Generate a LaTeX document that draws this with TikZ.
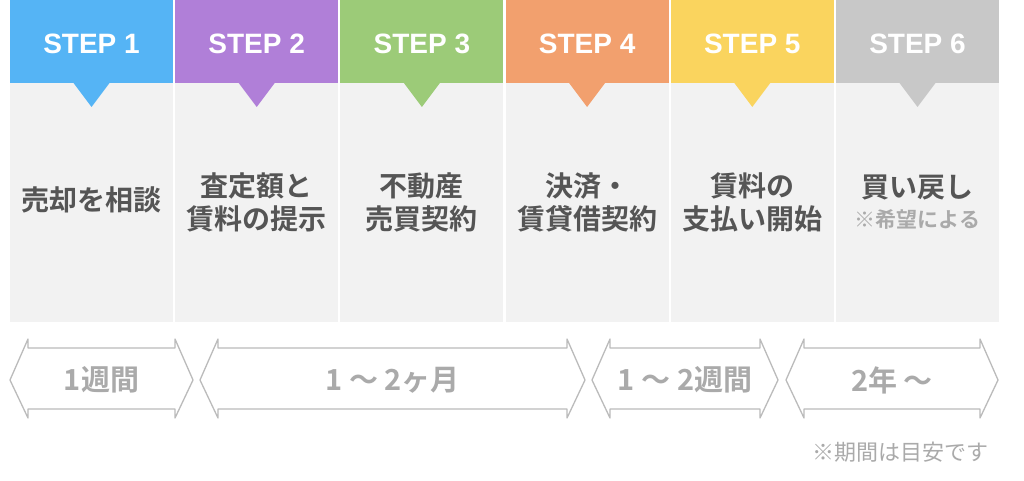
\documentclass[tikz,border=0pt]{standalone}
\usepackage{fontspec}
\setmainfont{Noto Sans CJK JP}
\newfontfamily\cjkb{Noto Sans CJK JP Bold}
\newfontfamily\arb{Liberation Sans Bold}
\begin{document}
\begin{tikzpicture}[x=1pt,y=-1pt,
  lbl/.style={font=\cjkb\fontsize{28}{33}\selectfont,text=txtc,align=center},
  steplbl/.style={font=\arb\fontsize{28}{30}\selectfont,text=white},
  durlbl/.style={font=\cjkb\fontsize{29}{30}\selectfont,text=arrc},
  arr/.style={draw=arrc!80,line width=1.3pt,line join=round,fill=white}]
\definecolor{bodyc}{HTML}{F2F2F2}
\definecolor{txtc}{HTML}{555555}
\definecolor{arrc}{HTML}{AAAAAA}
\definecolor{c1}{HTML}{55B4F5}
\definecolor{c2}{HTML}{B07FD8}
\definecolor{c3}{HTML}{9CCB78}
\definecolor{c4}{HTML}{F2A06E}
\definecolor{c5}{HTML}{FAD45E}
\definecolor{c6}{HTML}{C8C8C8}
\useasboundingbox (0,0) rectangle (1024,481);
\fill[white] (0,0) rectangle (1024,481);
\foreach \i/\c in {1/c1,2/c2,3/c3,4/c4,5/c5,6/c6}{
  \pgfmathsetmacro{\xa}{10+(\i-1)*165.2}
  \pgfmathsetmacro{\xb}{\xa+163}
  \pgfmathsetmacro{\xm}{\xa+81.5}
  \fill[bodyc] (\xa,83) rectangle (\xb,322);
  \fill[\c] (\xa,0) rectangle (\xb,83);
  \fill[\c] (\xm-18,83) -- (\xm+18,83) -- (\xm,107) -- cycle;
  \node[steplbl] (s\i) at (\xm,44) {STEP \i};
}
\node[lbl] (t1) at (91.5,200) {売却を相談};
\node[lbl] (t2) at (256.7,202) {査定額と\\賃料の提示};
\node[lbl] (t3) at (421.9,202) {不動産\\売買契約};
\node[lbl] (t4) at (587.1,202) {決済・\\賃貸借契約};
\node[lbl] (t5) at (752.3,202) {賃料の\\支払い開始};
\node[lbl] (t6) at (917.5,188) {買い戻し};
\node[font=\cjkb\fontsize{21}{24}\selectfont,text=arrc] (t6b) at (917.5,219) {※希望による};
\foreach \a/\b/\n/\t in {10/193/a1/1週間,200/585/a2/1 ～ 2ヶ月,592/778/a3/1 ～ 2週間,786/998/a4/2年 ～}{
  \draw[arr] (\a,380) -- (\a+18,339) -- (\a+18,348) -- (\b-18,348) -- (\b-18,339) -- (\b,380)
    -- (\b-18,418) -- (\b-18,409) -- (\a+18,409) -- (\a+18,418) -- cycle;
  \node[durlbl] (\n) at ({(\a+\b)/2},380) {\t};
}
\node[font=\fontsize{22}{24}\selectfont,text=arrc,anchor=east] (note) at (992,452) {※期間は目安です};
\end{tikzpicture}
\end{document}
